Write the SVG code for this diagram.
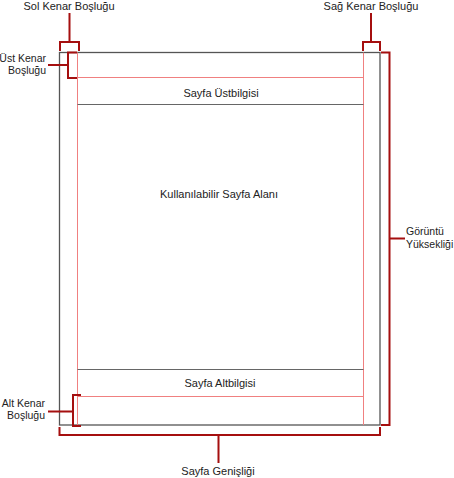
<svg xmlns="http://www.w3.org/2000/svg" width="454" height="478" viewBox="0 0 454 478">
<style>
.pg{fill:none;stroke:#555;stroke-width:1.3}
.gl{stroke:#666;stroke-width:1}
.pk{stroke:#f08080;stroke-width:1}
.br{fill:none;stroke:#a50f0f;stroke-width:2;stroke-linejoin:miter}
text{font-family:"Liberation Sans",Arial,sans-serif;font-size:11px;fill:#222}
.s{font-size:10.5px}
.c{text-anchor:middle}
.r{text-anchor:end}
</style>
<rect width="454" height="478" fill="#fff"/>
<g id="page">
<rect class="pg" x="59.5" y="52.5" width="320.5" height="372.5"/>
<line class="pk" x1="77.5" y1="52.5" x2="77.5" y2="425"/>
<line class="pk" x1="363.5" y1="52.5" x2="363.5" y2="425"/>
<line class="pk" x1="77.5" y1="77.5" x2="363.5" y2="77.5"/>
<line class="gl" x1="77.5" y1="104.5" x2="363.5" y2="104.5"/>
<line class="gl" x1="77.5" y1="369.5" x2="363.5" y2="369.5"/>
<line class="pk" x1="77.5" y1="396.5" x2="363.5" y2="396.5"/>
</g>
<g id="header"><text class="c" x="221" y="96.5">Sayfa Üstbilgisi</text></g>
<g id="body"><text class="c" x="219" y="198">Kullanılabilir Sayfa Alanı</text></g>
<g id="footer"><text class="c" x="220" y="386.5">Sayfa Altbilgisi</text></g>
<g id="labels">
<text class="c" x="69" y="10">Sol Kenar Boşluğu</text>
<text class="c" x="371" y="10">Sağ Kenar Boşluğu</text>
<text class="r s" x="46" y="62">Üst Kenar</text>
<text class="r s" x="46" y="74">Boşluğu</text>
<text class="r s" x="45" y="407">Alt Kenar</text>
<text class="r s" x="45" y="419">Boşluğu</text>
<text class="s" x="406" y="235">Görüntü</text>
<text class="s" x="406" y="248">Yüksekliği</text>
<text class="c" x="218" y="475">Sayfa Genişliği</text>
</g>
<g id="connectors">
<path class="br" d="M60,51 V42 H79 V51 M69.5,42 V13"/>
<path class="br" d="M363,51 V42 H380 V51 M371,42 V13"/>
<path class="br" d="M77,52.5 H68 V78 H77 M68,65 H48"/>
<path class="br" d="M81,395 H73 V426 H81 M73,411.5 H48"/>
<path class="br" d="M59.5,427 V435 H380 V427 M218.5,435 V463"/>
<path class="br" d="M381,52.5 H389.5 V425 H381 M389.5,238.5 H405"/>
</g>
</svg>
